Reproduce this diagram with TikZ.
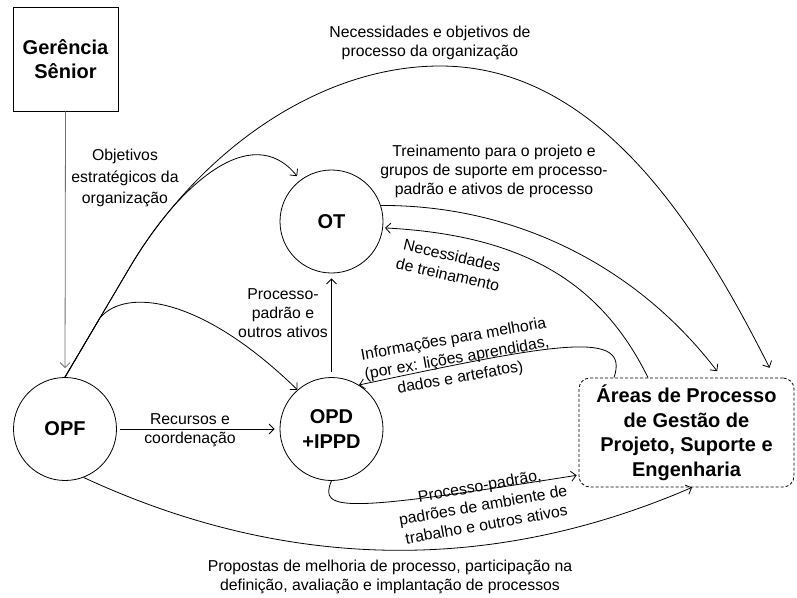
\documentclass[tikz,border=0pt]{standalone}
\usepackage{fontspec}
\setmainfont{Liberation Sans}
\usetikzlibrary{arrows.meta}
\definecolor{glin}{RGB}{110,110,110}
\begin{document}
\begin{tikzpicture}[x=1pt,y=-1pt,
  every node/.style={inner sep=0pt, align=center},
  proc/.style={draw, circle, minimum size=103pt, line width=0.8pt, font=\fontsize{20}{24.5}\selectfont\bfseries},
  bigbox/.style={draw, rectangle, line width=0.8pt, font=\fontsize{20}{24.5}\selectfont\bfseries},
  areabox/.style={draw, rectangle, rounded corners=11pt, dash pattern=on 3pt off 2pt, line width=0.8pt, font=\fontsize{20}{24.5}\selectfont\bfseries},
  lbl/.style={font=\fontsize{15.8}{19}\selectfont},
  rlbl/.style={font=\fontsize{15.8}{19.5}\selectfont},
  conn/.style={line width=0.8pt, -{Straight Barb[length=5pt,width=10pt]}},
  gconn/.style={conn, draw=glin}
]
\useasboundingbox (0,0) rectangle (797,597);

% nodes
\node[bigbox, minimum width=105pt, minimum height=104pt] (GS) at (65.5,59) {Gerência\\Sênior};
\node[proc] (OPF) at (65,429) {OPF};
\node[proc] (OT) at (331.5,221.5) {OT};
\node[proc] (OPD) at (331.5,429) {OPD\\+IPPD};
\node[areabox, minimum width=215pt, minimum height=109pt] (AR) at (686.5,432.5) {Áreas de Processo\\de Gestão de\\Projeto, Suporte e\\Engenharia};

% branch points on the common stem leaving OPF
\coordinate (b1) at (99.9,318);
\coordinate (b2) at (130,267);

% connectors
\draw[gconn, shorten >=9pt] (GS.south) -- (OPF.north);
\draw[conn] (OPF.north) -- (b1) .. controls (125,288) and (200,295) .. (OPD.131);
\draw[conn, shorten >=5pt] (OPF.north) -- (b2) .. controls (175,190) and (250,118) .. (OT.127);
\draw[conn, shorten >=11pt] (OPF.north) -- (b2) .. controls (200,150) and (320,66) .. (440,66)
      .. controls (600,66) and (700,230) .. ([xshift=88pt]AR.north);
\draw[conn, shorten >=8pt] (OT.18) .. controls (520,205) and (640,270) .. ([xshift=35.5pt]AR.north);
\draw[conn, shorten >=2pt] ([xshift=-38.5pt]AR.north) .. controls (600,280) and (520,235) .. (OT.-7);
\draw[conn] ([xshift=-72.5pt]AR.north) .. controls (630,330) and (560,342) .. (OPD.58);
\draw[conn, shorten >=2pt] (OPD.south) .. controls (318,512) and (345,512) .. ([yshift=-42.5pt]AR.west);
\draw[conn] (OPF.-69) .. controls (240,550) and (450,592) .. ([xshift=5.5pt]AR.south);
\draw[conn, shorten <=3pt, shorten >=5pt] (OPF) -- (OPD);
\draw[conn, shorten <=5pt, shorten >=5pt] (OPD) -- (OT);

% labels
\node[lbl] (l1) at (430,43) {Necessidades e objetivos de\\processo da organização};
\node[lbl] (l2) at (494,171) {Treinamento para o projeto e\\grupos de suporte em processo-\\padrão e ativos de processo};
\node[lbl, font=\fontsize{15.8}{21.5}\selectfont] (l3) at (125,178) {Objetivos\\estratégicos da\\organização};
\node[lbl] (l4) at (283,313) {Processo-\\padrão e\\outros ativos};
\node[lbl] (l5) at (190,430) {Recursos e\\coordenação};
\node[rlbl, rotate=-13] (l6) at (450,265) {Necessidades\\de treinamento};
\node[rlbl, rotate=10] (l7) at (457,359) {Informações para melhoria\\(por ex: lições aprendidas,\\dados e artefatos)};
\node[rlbl, rotate=10] (l8) at (483,505) {Processo-padrão,\\padrões de ambiente de\\trabalho e outros ativos};
\node[lbl] (l9) at (390,577) {Propostas de melhoria de processo, participação na\\definição, avaliação e implantação de processos};
\end{tikzpicture}
\end{document}
